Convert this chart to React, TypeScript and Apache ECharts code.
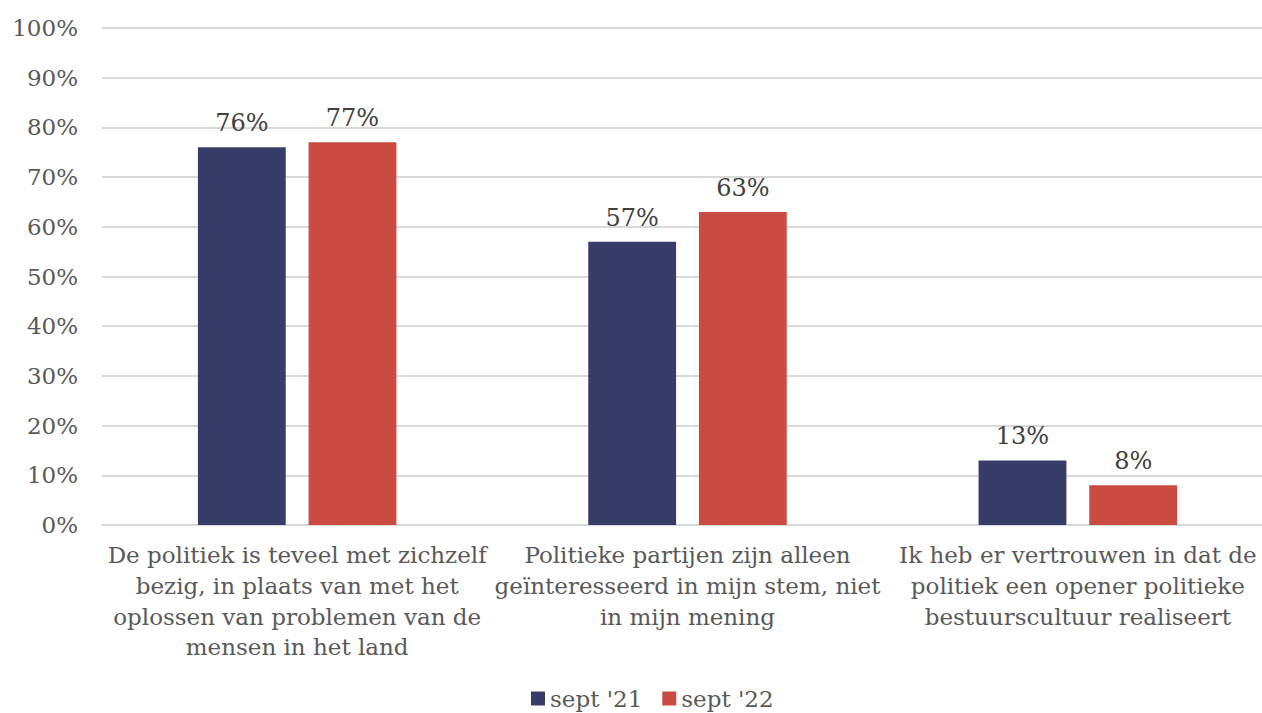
import React, { useEffect, useRef } from "react";
import * as echarts from "echarts";

const categories = [
  "De politiek is teveel met zichzelf\nbezig, in plaats van met het\noplossen van problemen van de\nmensen in het land",
  "Politieke partijen zijn alleen\ngeïnteresseerd in mijn stem, niet\nin mijn mening",
  "Ik heb er vertrouwen in dat de\npolitiek een opener politieke\nbestuurscultuur realiseert",
];
const seriesNames = ["sept '21", "sept '22"];
const sept21 = [76, 57, 13];
const sept22 = [77, 63, 8];
const colors = ["#383C69", "#C94B42"];

const FONT = "DejaVu Serif";

export default function App() {
  const ref = useRef<HTMLDivElement>(null);
  useEffect(() => {
    document.body.style.margin = "0";
    document.body.style.overflow = "hidden";
    document.documentElement.style.overflow = "hidden";
    if (!ref.current) return;
    const chart = echarts.init(ref.current, undefined, { renderer: "svg" });
    const label = {
      show: true,
      position: "top" as const,
      distance: 12,
      formatter: "{c}%",
      color: "#404040",
      fontFamily: FONT,
      fontSize: 24,
    };
    chart.setOption({
      animation: false,
      textStyle: { fontFamily: FONT },
      grid: { left: 102, top: 28, width: 1171, height: 497, containLabel: false },
      legend: {
        data: seriesNames,
        top: 687,
        left: 531,
        padding: 0,
        itemWidth: 14,
        itemHeight: 14,
        itemGap: 20,
        icon: "rect",
        textStyle: { color: "#595959", fontSize: 23, fontFamily: FONT },
      },
      xAxis: {
        type: "category",
        data: categories,
        axisLine: { show: true, lineStyle: { color: "#d9d9d9", width: 2 } },
        axisTick: { show: false },
        axisLabel: {
          color: "#595959",
          fontSize: 23,
          fontFamily: FONT,
          lineHeight: 30.7,
          margin: 15,
          interval: 0,
        },
      },
      yAxis: {
        type: "value",
        min: 0,
        max: 100,
        interval: 10,
        axisLine: { show: false },
        axisTick: { show: false },
        splitLine: { lineStyle: { color: "#d9d9d9", width: 2 } },
        axisLabel: {
          formatter: "{value}%",
          color: "#595959",
          fontSize: 23,
          fontFamily: FONT,
          margin: 24,
        },
      },
      series: [
        {
          name: seriesNames[0],
          type: "bar",
          data: sept21,
          barWidth: "22.5%",
          barGap: "26%",
          itemStyle: { color: colors[0] },
          label,
        },
        {
          name: seriesNames[1],
          type: "bar",
          data: sept22,
          barWidth: "22.5%",
          barGap: "26%",
          itemStyle: { color: colors[1] },
          label,
        },
      ],
    });
    return () => chart.dispose();
  }, []);
  return <div ref={ref} style={{ width: 1280, height: 713 }} />;
}
